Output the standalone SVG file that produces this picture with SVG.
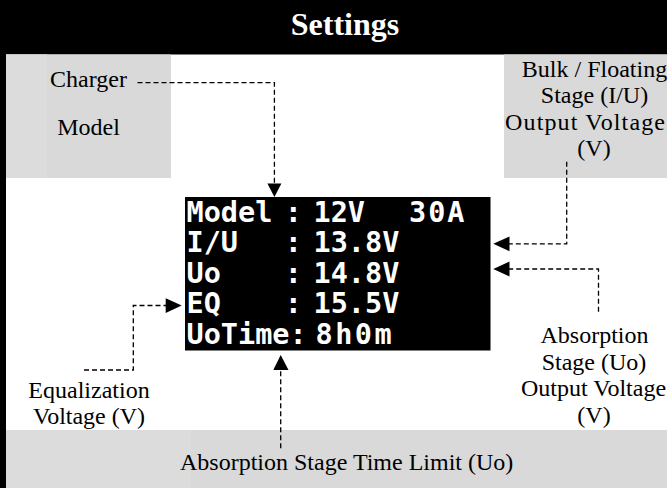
<svg xmlns="http://www.w3.org/2000/svg" width="667" height="488" viewBox="0 0 667 488">
  <style>
    .lbl { font-family: "Liberation Serif", "Times New Roman", serif; font-size: 24px; fill: #000; }
    .mid { text-anchor: middle; }
    .lcd { font-family: "DejaVu Sans Mono", "Liberation Mono", monospace; font-weight: bold; font-size: 28.5px; fill: #fff; }
    .box { fill: #d9d9d9; }
    .conn { fill: none; stroke: #000; stroke-width: 1.3; stroke-dasharray: 5 3; }
    .head { fill: #000; }
  </style>
  <rect x="0" y="0" width="667" height="488" fill="#fff"/>
  <g id="frame">
    <rect x="0" y="0" width="667" height="54.5" fill="#000"/>
    <rect x="0" y="0" width="6" height="488" fill="#000"/>
  </g>
  <g id="title">
    <text x="345" y="35" text-anchor="middle" font-family="Liberation Serif, 'Times New Roman', serif" font-weight="bold" font-size="32" fill="#fff">Settings</text>
  </g>
  <g id="charger-model">
    <rect class="box" x="6" y="54.5" width="165" height="123.5"/>
    <rect x="6" y="54.5" width="41" height="123.5" fill="#dcdcdc"/>
    <text class="lbl mid" x="88.5" y="86.7">Charger</text>
    <text class="lbl mid" x="88.5" y="135">Model</text>
  </g>
  <g id="bulk-floating">
    <rect class="box" x="504" y="54.5" width="163" height="123.5"/>
    <text class="lbl mid" x="594.5" y="76.7">Bulk / Floating</text>
    <text class="lbl mid" x="594.5" y="103.2">Stage (I/U)</text>
    <text class="lbl" x="505" y="129.7" textLength="160" lengthAdjust="spacing">Output Voltage</text>
    <text class="lbl mid" x="594" y="156.2">(V)</text>
  </g>
  <g id="time-limit">
    <rect class="box" x="6" y="430" width="661" height="58"/>
    <rect x="6" y="430" width="185" height="58" fill="#dcdcdc"/>
    <text class="lbl" x="180" y="470">Absorption Stage Time Limit (Uo)</text>
  </g>
  <g id="lcd">
    <rect x="185" y="197" width="305.5" height="153.5" fill="#000"/>
    <text class="lcd" x="186.5" y="221.5">Model</text>
    <text class="lcd" x="284.8" y="221.5">:</text>
    <text class="lcd" x="313.5" y="221.5">12V</text>
    <text class="lcd" x="409" y="221.5" letter-spacing="2">30A</text>
    <text class="lcd" x="186.5" y="252">I/U</text>
    <text class="lcd" x="284.8" y="252">:</text>
    <text class="lcd" x="313.5" y="252">13.8V</text>
    <text class="lcd" x="186.5" y="282.5">Uo</text>
    <text class="lcd" x="284.8" y="282.5">:</text>
    <text class="lcd" x="313.5" y="282.5">14.8V</text>
    <text class="lcd" x="186.5" y="313">EQ</text>
    <text class="lcd" x="284.8" y="313">:</text>
    <text class="lcd" x="313.5" y="313">15.5V</text>
    <text class="lcd" x="186.5" y="343.5">UoTime:</text>
    <text class="lcd" x="315.5" y="343.5" letter-spacing="2.5">8h0m</text>
  </g>
  <g id="absorption-voltage">
    <text class="lbl mid" x="594.5" y="343.3">Absorption</text>
    <text class="lbl mid" x="594" y="369.8">Stage (Uo)</text>
    <text class="lbl mid" x="593.5" y="396.3">Output Voltage</text>
    <text class="lbl mid" x="594" y="422.8">(V)</text>
  </g>
  <g id="equalization">
    <text class="lbl mid" x="89" y="398.3">Equalization</text>
    <text class="lbl mid" x="89" y="424.3">Voltage (V)</text>
  </g>
  <g id="connectors">
    <path class="conn" d="M137.5 82.7 H274.4 V184"/>
    <polygon class="head" points="267.4,183.5 281.4,183.5 274.4,197"/>
    <path class="conn" d="M566.7 161.7 V243.8 H509"/>
    <polygon class="head" points="509.5,236.5 509.5,251.3 493.3,243.8"/>
    <path class="conn" d="M598.5 311.7 V269 H509"/>
    <polygon class="head" points="509.5,261.5 509.5,276.5 493.3,269"/>
    <path class="conn" d="M84 370 H133.3 V305.5 H166"/>
    <polygon class="head" points="165.7,298.3 165.7,313 181.7,305.5"/>
    <path class="conn" d="M280.7 448.3 V370"/>
    <polygon class="head" points="273.3,370 288.5,370 280.7,355"/>
  </g>
</svg>
